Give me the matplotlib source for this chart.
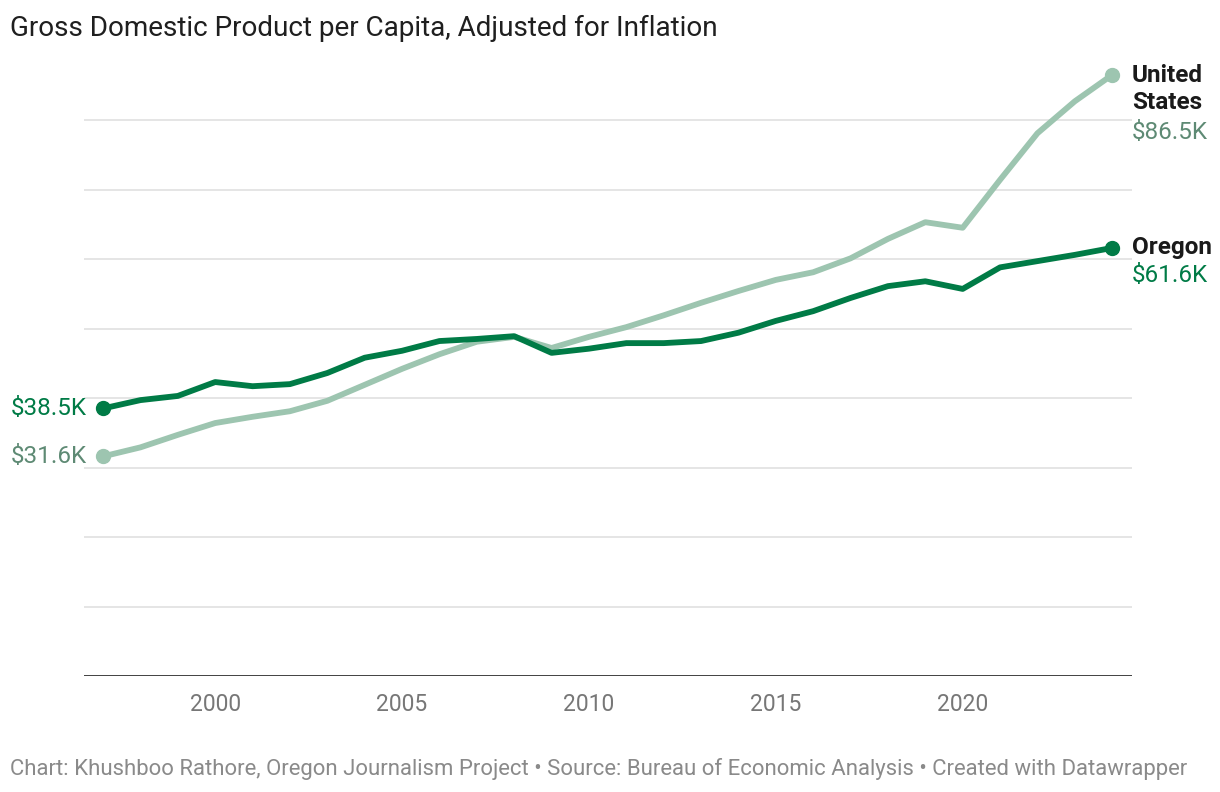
import matplotlib
matplotlib.use("Agg")
import matplotlib.pyplot as plt

plt.rcParams["font.family"] = ["Roboto", "DejaVu Sans"]

# GDP per capita (thousand $)
years = list(range(1997, 2025))
us_gdp = [31.6, 32.9, 34.7, 36.4, 37.3, 38.1, 39.6, 41.9, 44.2, 46.3,
          48.1, 48.8, 47.2, 48.8, 50.2, 51.9, 53.7, 55.4, 57.0, 58.1,
          60.1, 62.9, 65.3, 64.5, 71.4, 78.1, 82.7, 86.5]
oregon_gdp = [38.5, 39.7, 40.3, 42.3, 41.7, 42.0, 43.6, 45.8, 46.8, 48.2,
              48.5, 48.9, 46.5, 47.1, 47.9, 47.9, 48.2, 49.4, 51.1, 52.5,
              54.4, 56.1, 56.8, 55.7, 58.8, 59.7, 60.6, 61.6]
xticks = [2000, 2005, 2010, 2015, 2020]
grid_vals = [10, 20, 30, 40, 50, 60, 70, 80]

DARK = "#007b46"
LIGHT = "#9dc5b0"
LIGHT_TXT = "#5e8a74"
LBL = 17.5

fig = plt.figure(figsize=(12.2, 7.92), dpi=100)
ax = fig.add_axes([84 / 1220, 1 - 676 / 792, (1132 - 84) / 1220, 0.7897])

for g in grid_vals:
    ax.axhline(g, color="#e0e0e0", lw=1.2, zorder=0)
ax.axhline(0, color="#333333", lw=1.3, zorder=1)

ax.plot(years, us_gdp, color=LIGHT, lw=4.2, solid_capstyle="round", zorder=2)
ax.plot(years, oregon_gdp, color=DARK, lw=4.2, solid_capstyle="round", zorder=3)
ax.plot([years[0], years[-1]], [us_gdp[0], us_gdp[-1]], "o", color=LIGHT, ms=10, zorder=2)
ax.plot([years[0], years[-1]], [oregon_gdp[0], oregon_gdp[-1]], "o", color=DARK, ms=10, zorder=3)

ax.set_xlim(1996.49, 2024.53)
ax.set_ylim(0, 90)
ax.set_xticks(xticks)
ax.set_xticklabels([str(t) for t in xticks], fontsize=16.5, color="#777777")
ax.tick_params(axis="x", length=0, pad=12)
ax.set_yticks([])
for s in ax.spines.values():
    s.set_visible(False)

# start labels
ax.annotate(f"${oregon_gdp[0]}K", (years[0], oregon_gdp[0]), xytext=(-12, 0),
            textcoords="offset points", ha="right", va="center",
            fontsize=LBL, color=DARK)
ax.annotate(f"${us_gdp[0]}K", (years[0], us_gdp[0]), xytext=(-12, 0),
            textcoords="offset points", ha="right", va="center",
            fontsize=LBL, color=LIGHT_TXT)

# end labels
ax.annotate("United\nStates", (years[-1], us_gdp[-1]), xytext=(14, 8),
            textcoords="offset points", ha="left", va="top",
            fontsize=LBL, fontweight="bold", color="#1a1a1a", linespacing=1.25)
ax.annotate(f"${us_gdp[-1]}K", (years[-1], us_gdp[-1]), xytext=(14, -33),
            textcoords="offset points", ha="left", va="top",
            fontsize=LBL, color=LIGHT_TXT)
ax.annotate("Oregon", (years[-1], oregon_gdp[-1]), xytext=(14, 0),
            textcoords="offset points", ha="left", va="center",
            fontsize=LBL, fontweight="bold", color="#1a1a1a")
ax.annotate(f"${oregon_gdp[-1]}K", (years[-1], oregon_gdp[-1]), xytext=(14, -20),
            textcoords="offset points", ha="left", va="center",
            fontsize=LBL, color=DARK)

fig.text(10 / 1220, 1 - 28 / 792, "Gross Domestic Product per Capita, Adjusted for Inflation",
         ha="left", va="center", fontsize=20.1, color="#1f1f1f")
fig.text(10 / 1220, 1 - 769 / 792,
         "Chart: Khushboo Rathore, Oregon Journalism Project \u2022 Source: Bureau of Economic Analysis \u2022 Created with Datawrapper",
         ha="left", va="center", fontsize=15.9, color="#8a8a8a")

fig.savefig("out.png", dpi=100)
